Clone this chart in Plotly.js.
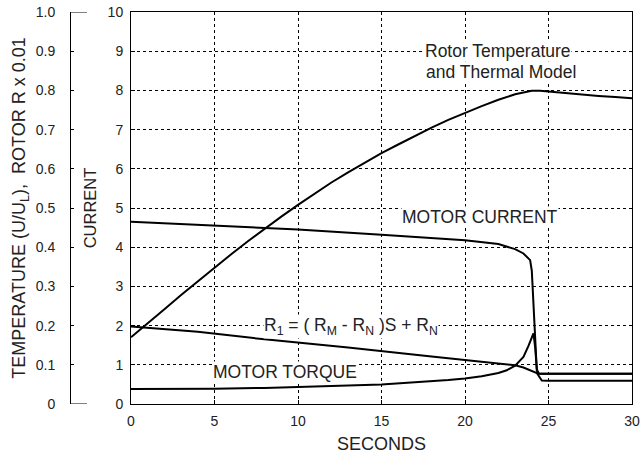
<!DOCTYPE html>
<html>
<head>
<meta charset="utf-8">
<script src="https://cdn.plot.ly/plotly-3.0.1.min.js"></script>
<style>html,body{margin:0;padding:0;background:#fff;}#chart{width:642px;height:462px;}</style>
</head>
<body>
<div id="chart"></div>
<script>
// Time in seconds
var tempTime = [0,1,2,3,4,5,6,7,8,9,10,11,12,13,14,15,16,17,18,19,20,21,22,23,24,24.5,25,26,27,28,29,30];
// Rotor temperature (U/UL), left scale 0-1
var tempValues = [0.170,0.205,0.242,0.278,0.313,0.348,0.382,0.415,0.447,0.478,0.508,0.537,0.565,0.591,0.616,0.640,0.662,0.684,0.705,0.725,0.743,0.760,0.776,0.790,0.799,0.799,0.797,0.793,0.790,0.786,0.783,0.780];

// Rotor resistance R1 x 0.01, left scale 0-1
var rotorRTime = [0,4,8,13,18,22,23,23.5,24,24.3,24.6,25,30];
var rotorRValues = [0.198,0.184,0.165,0.144,0.121,0.103,0.099,0.093,0.085,0.079,0.060,0.059,0.059];

// Motor current, CURRENT scale 0-10
var currentTime = [0,5,10,15,20,22,23,23.5,23.8,23.9,24.0,24.1,24.2,24.3,24.45,25,30];
var currentValues = [4.65,4.55,4.45,4.32,4.18,4.08,3.95,3.84,3.72,3.67,3.4,2.6,1.5,0.85,0.77,0.77,0.77];

// Motor torque, CURRENT scale 0-10
var torqueTime = [0,2,5,8,10,12,15,17,19,20,21,22,22.5,23,23.5,23.8,24.0,24.1,24.2,24.3,24.4,25,30];
var torqueValues = [0.38,0.38,0.39,0.41,0.43,0.46,0.50,0.55,0.61,0.65,0.71,0.79,0.86,0.98,1.20,1.48,1.70,1.80,1.45,0.90,0.77,0.77,0.77];

// Axis ticks
var currentTicks = [0,1,2,3,4,5,6,7,8,9,10];
var leftTickVals = [0,0.1,0.2,0.3,0.4,0.5,0.6,0.7,0.8,0.9,1.0];
var leftTickText = ["0","0.1","0.2","0.3","0.4","0.5","0.6","0.7","0.8","0.9","1.0"];
var timeTicks = [0,5,10,15,20,25,30];

var FONT = "Arial, 'Liberation Sans', sans-serif";
var TXT = "#222";
var lineStyle = {color: "#000", width: 2};
var tickFont = {family: FONT, size: 14, color: TXT};
var annFont = {family: FONT, size: 17.5, color: TXT};

var traces = [
  {x: tempTime, y: tempValues, yaxis: "y2", mode: "lines", line: lineStyle, name: "Rotor Temperature"},
  {x: rotorRTime, y: rotorRValues, yaxis: "y2", mode: "lines", line: lineStyle, name: "R1"},
  {x: currentTime, y: currentValues, yaxis: "y", mode: "lines", line: lineStyle, name: "Motor Current"},
  {x: torqueTime, y: torqueValues, yaxis: "y", mode: "lines", line: lineStyle, name: "Motor Torque"}
];

var domStart = (131 - 70) / 562;

var layout = {
  width: 642, height: 462,
  margin: {l: 70, r: 10, t: 12, b: 58, pad: 0},
  paper_bgcolor: "#fff", plot_bgcolor: "#fff",
  showlegend: false,
  font: {family: FONT, size: 14, color: TXT},
  xaxis: {
    domain: [domStart, 1], range: [0, 30], tickvals: timeTicks, tickfont: tickFont,
    showline: true, linecolor: "#000", linewidth: 1, mirror: true,
    ticks: "inside", ticklen: 4, tickcolor: "#000",
    showgrid: true, gridcolor: "#000", gridwidth: 1, griddash: "3px,3px",
    zeroline: false, ticklabelstandoff: 4,
    title: {text: "SECONDS", font: {family: FONT, size: 18, color: TXT}, standoff: 9}
  },
  yaxis: {
    range: [0, 10], tickvals: currentTicks, anchor: "x", tickfont: tickFont,
    showline: true, linecolor: "#000", linewidth: 1, mirror: true,
    ticks: "inside", ticklen: 4, tickcolor: "#000",
    showgrid: true, gridcolor: "#000", gridwidth: 1, griddash: "3px,3px",
    zeroline: false, ticklabelstandoff: 4,
    title: {text: "CURRENT", font: {family: FONT, size: 16.5, color: TXT}, standoff: 6}
  },
  yaxis2: {
    range: [0, 1], tickvals: leftTickVals, ticktext: leftTickText, tickfont: tickFont,
    overlaying: "y", anchor: "free", position: 0, side: "left",
    showline: true, linecolor: "#000", linewidth: 1,
    ticks: "inside", ticklen: 3, tickcolor: "#000",
    showgrid: false, zeroline: false, ticklabelstandoff: 12,
    title: {text: "TEMPERATURE (U/U<sub>L</sub>),  ROTOR R x 0.01", font: {family: FONT, size: 18, color: TXT}, standoff: 4}
  },
  shapes: [
    {type: "line", xref: "paper", yref: "y2", x0: 0, x1: 17/562, y0: 1, y1: 1, line: {color: "#000", width: 1}},
    {type: "line", xref: "paper", yref: "y2", x0: 0, x1: 17/562, y0: 0, y1: 0, line: {color: "#000", width: 1}}
  ],
  annotations: [
    {x: 17.54, y: 9.0, xref: "x", yref: "y", text: "Rotor Temperature", font: annFont, showarrow: false, xanchor: "left", yanchor: "middle", bgcolor: "#fff", borderpad: 0},
    {x: 17.6, y: 8.48, xref: "x", yref: "y", text: "and Thermal Model", font: annFont, showarrow: false, xanchor: "left", yanchor: "middle", bgcolor: "#fff", borderpad: 0},
    {x: 20.87, y: 4.77, xref: "x", yref: "y", text: "MOTOR CURRENT", font: annFont, showarrow: false, xanchor: "center", yanchor: "middle", bgcolor: "#fff", borderpad: 0},
    {x: 13.17, y: 1.98, xref: "x", yref: "y", text: "R<sub>1</sub> = ( R<sub>M</sub> - R<sub>N</sub> )S + R<sub>N</sub>", font: annFont, showarrow: false, xanchor: "center", yanchor: "middle", bgcolor: "#fff", borderpad: 0},
    {x: 9.25, y: 0.82, xref: "x", yref: "y", text: "MOTOR TORQUE", font: annFont, showarrow: false, xanchor: "center", yanchor: "middle", bgcolor: "#fff", borderpad: 0}
  ]
};

Plotly.newPlot("chart", traces, layout, {staticPlot: true, displayModeBar: false});
</script>
</body>
</html>
